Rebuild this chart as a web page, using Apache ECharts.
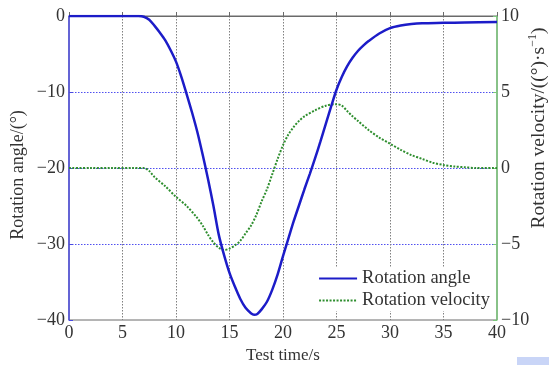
<!DOCTYPE html>
<html>
<head>
<meta charset="utf-8">
<script src="https://cdn.jsdelivr.net/npm/echarts@6/dist/echarts.min.js"></script>
<style>
  html, body { margin: 0; padding: 0; background: #fff; }
  #chart { width: 549px; height: 365px; }
</style>
</head>
<body>
<div id="chart"></div>
<script>
// Rotation angle (deg) over test time (s)
const angleTime = [0, 2, 4, 6, 6.5, 7, 7.5, 8, 8.5, 9, 9.5, 10, 10.5, 11, 11.5, 12, 12.5, 13, 13.5, 14, 14.5, 15, 15.5, 16, 16.5, 17, 17.3, 17.6, 18, 18.5, 19, 19.5, 20, 20.5, 21, 21.5, 22, 22.5, 23, 23.5, 24, 24.5, 25, 25.5, 26, 26.5, 27, 27.5, 28, 29, 30, 31, 32, 33, 35, 37, 40];
const angleValues = [0, 0, 0, 0, 0, -0.1, -0.5, -1.3, -2.2, -3.2, -4.5, -6.0, -8.0, -10.3, -12.7, -15.3, -18.3, -21.5, -25.0, -28.8, -31.5, -33.8, -35.6, -37.2, -38.4, -39.1, -39.3, -39.2, -38.6, -37.6, -36.0, -34.0, -31.6, -29.3, -27.0, -24.9, -22.8, -20.8, -18.7, -16.5, -14.2, -11.9, -9.7, -8.0, -6.6, -5.5, -4.6, -3.9, -3.3, -2.3, -1.6, -1.25, -1.05, -0.95, -0.9, -0.85, -0.8];

// Rotation velocity (deg/s) over test time (s)
const velTime = [0, 2, 4, 6, 7, 7.5, 8, 9, 10, 11, 12, 12.5, 13, 13.5, 14, 14.5, 15, 15.5, 16, 16.5, 17, 17.5, 18, 18.5, 19, 19.5, 20, 20.5, 21, 21.5, 22, 23, 24, 25, 25.5, 26, 26.5, 27, 28, 29, 30, 31, 32, 33, 34, 35, 36, 37, 38, 40];
const velValues = [0, 0, 0, 0, 0, -0.2, -0.6, -1.2, -1.9, -2.5, -3.3, -3.8, -4.4, -4.9, -5.25, -5.4, -5.3, -5.1, -4.8, -4.3, -3.8, -3.1, -2.2, -1.4, -0.4, 0.6, 1.5, 2.2, 2.7, 3.1, 3.4, 3.8, 4.1, 4.2, 4.1, 3.75, 3.4, 3.1, 2.5, 2.0, 1.6, 1.2, 0.85, 0.6, 0.35, 0.2, 0.1, 0.05, 0, 0];

const xTicks = { min: 0, max: 40, interval: 5 };
const angleTicks = { min: -40, max: 0, interval: 10 };
const velTicks = { min: -10, max: 10, interval: 5 };

const leftTitle = 'Rotation angle/(°)';
const rightTitle = '{t|Rotation velocity/((°)·s}{s|−1}{t|)}';

const serif = '"Liberation Serif", "Times New Roman", serif';
const ink = '#333';
const minus = v => String(v).replace('-', '\u2212');
const zip = (xs, ys) => xs.map((x, i) => [x, ys[i]]);

const chart = echarts.init(document.getElementById('chart'), null, { renderer: 'canvas' });

chart.setOption({
  animation: false,
  backgroundColor: '#fff',
  textStyle: { fontFamily: serif },
  grid: {
    left: 69, right: 52, top: 16, bottom: 45,
    outerBoundsMode: 'none',
    containLabel: false,
    show: true, borderColor: '#6a6a6a', borderWidth: 1, backgroundColor: 'transparent'
  },
  legend: {
    right: 57, top: 268,
    orient: 'vertical',
    backgroundColor: '#fff',
    padding: [1, 2, 1, 4],
    itemGap: 3,
    itemWidth: 38, itemHeight: 14,
    itemStyle: { opacity: 0 },
    textStyle: { fontFamily: serif, fontSize: 18.5, color: ink },
    data: ['Rotation angle', 'Rotation velocity']
  },
  xAxis: {
    type: 'value',
    min: xTicks.min, max: xTicks.max, interval: xTicks.interval,
    name: 'Test time/s',
    nameLocation: 'middle', nameGap: 23,
    nameTextStyle: { fontFamily: serif, fontSize: 17, color: ink },
    axisLine: { show: true, lineStyle: { color: '#6a6a6a', width: 1 } },
    axisTick: { show: true, inside: true, length: 4, lineStyle: { color: '#6a6a6a' } },
    axisLabel: { fontFamily: serif, fontSize: 18, color: ink, margin: 4 },
    splitLine: { show: true, showMinLine: false, showMaxLine: false, lineStyle: { color: '#808080', type: [1.5, 1.5], width: 1 } }
  },
  yAxis: [
    {
      type: 'value', position: 'left',
      min: angleTicks.min, max: angleTicks.max, interval: angleTicks.interval,
      axisLine: { show: true, lineStyle: { color: '#4a4ae0', width: 1.5 } },
      axisTick: { show: true, inside: true, length: 4, lineStyle: { color: '#4a4ae0' } },
      axisLabel: { fontFamily: serif, fontSize: 18, color: ink, margin: 4, formatter: minus },
      splitLine: { show: true, showMinLine: false, showMaxLine: false, lineStyle: { color: '#5050f0', type: [1.5, 1.5], width: 1 } }
    },
    {
      type: 'value', position: 'right',
      min: velTicks.min, max: velTicks.max, interval: velTicks.interval,
      axisLine: { show: true, lineStyle: { color: '#7ac77a', width: 1.5 } },
      axisTick: { show: true, inside: true, length: 4, lineStyle: { color: '#7ac77a' } },
      axisLabel: { fontFamily: serif, fontSize: 18, color: ink, margin: 4, formatter: minus },
      splitLine: { show: false }
    }
  ],
  series: [
    {
      name: 'Rotation angle',
      type: 'line',
      yAxisIndex: 0,
      data: zip(angleTime, angleValues),
      smooth: 0.3,
      symbol: 'none',
      lineStyle: { color: '#1c1cc8', width: 2.5 },
      itemStyle: { color: '#1c1cc8' },
      z: 3
    },
    {
      name: 'Rotation velocity',
      type: 'line',
      yAxisIndex: 1,
      data: zip(velTime, velValues),
      smooth: 0.3,
      symbol: 'none',
      lineStyle: { color: '#2e8e2e', width: 2, type: [2, 1.5] },
      itemStyle: { color: '#2e8e2e' },
      z: 2
    }
  ],
  graphic: [
    {
      // left axis title
      type: 'text', x: 18, y: 175, rotation: Math.PI / 2,
      style: { text: leftTitle, font: '18px ' + serif, fill: ink, align: 'center', verticalAlign: 'middle' },
      silent: true
    },
    {
      // right axis title with superscript exponent
      type: 'text', x: 538, y: 128, rotation: Math.PI / 2,
      style: {
        text: rightTitle, fill: ink, align: 'center', verticalAlign: 'middle',
        rich: {
          t: { fontFamily: serif, fontSize: 19.5, fill: ink, lineHeight: 22, verticalAlign: 'bottom' },
          s: { fontFamily: serif, fontSize: 12, fill: ink, lineHeight: 22, verticalAlign: 'top' }
        }
      },
      silent: true
    },
    {
      type: 'rect', left: 517, top: 357,
      shape: { width: 32, height: 8 },
      style: { fill: '#c9d5f7' }, silent: true
    }
  ]
});
</script>
</body>
</html>
